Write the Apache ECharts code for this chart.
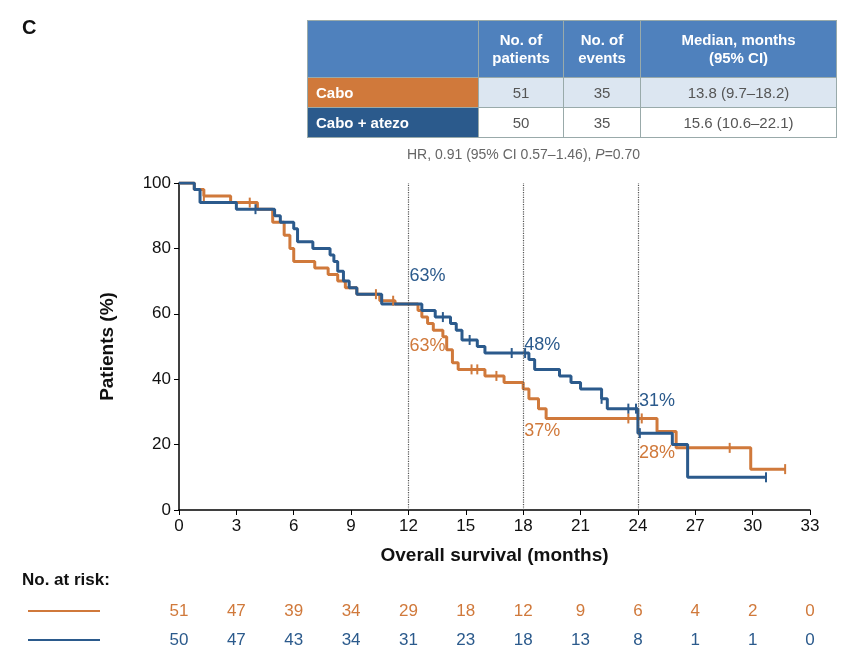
<!DOCTYPE html>
<html><head><meta charset="utf-8">
<script src="https://cdn.jsdelivr.net/npm/echarts@6/dist/echarts.min.js"></script>
<style>
body{margin:0;background:#fff;font-family:Arial,"Liberation Sans",sans-serif}
#c{width:856px;height:664px;position:absolute;left:0;top:0}
table{position:absolute;left:307px;top:20px;border-collapse:collapse;font-size:15px;z-index:2}
td{border:1.5px solid #9aa;padding:0;height:29px;text-align:center;color:#555}
.h td{background:#4f81bd;color:#fff;font-weight:bold;height:56px;line-height:18px}
</style></head><body>
<div id="c"></div>
<table>
<tr class="h"><td style="width:170px"></td><td style="width:84px">No. of<br>patients</td><td style="width:76px">No. of<br>events</td><td style="width:195px">Median, months<br>(95% CI)</td></tr>
<tr><td style="background:#d0793b;color:#fff;font-weight:bold;text-align:left;padding-left:8px">Cabo</td><td style="background:#dce6f1">51</td><td style="background:#dce6f1">35</td><td style="background:#dce6f1">13.8 (9.7–18.2)</td></tr>
<tr><td style="background:#2b5a8c;color:#fff;font-weight:bold;text-align:left;padding-left:8px">Cabo + atezo</td><td>50</td><td>35</td><td>15.6 (10.6–22.1)</td></tr>
</table>
<script>
const xTicks=[0,3,6,9,12,15,18,21,24,27,30,33];
const riskCabo=[51,47,39,34,29,18,12,9,6,4,2,0];
const riskCombo=[50,47,43,34,31,23,18,13,8,1,1,0];
const caboKM=[[0,100],[0.8,98],[1.3,96],[2.7,94],[4.1,92],[4.9,88],[5.5,84],[5.8,80],[6.0,76],[7.1,74],[7.8,72],[8.3,70],[8.7,68],[9.3,66],[10.5,64],[11.3,63],[12.5,61],[12.7,59],[13.0,57],[13.3,55],[13.8,53],[14.0,49],[14.3,45],[14.6,43],[16.0,41],[17.0,39],[18.0,37],[18.3,34],[18.8,31],[19.2,28],[25.0,24],[26.0,19],[29.9,12.5],[31.7,12.5]];
const comboKM=[[0,100],[0.8,98],[1.1,94],[3.0,92],[5.0,90],[5.3,88],[6.0,86],[6.2,82],[7.0,80],[7.9,78],[8.1,76],[8.3,73],[8.6,70],[8.9,68],[9.3,66],[10.6,63],[12.7,61],[13.4,59],[14.2,57],[14.5,55],[14.8,52],[15.6,50],[16.0,48],[18.3,46],[18.6,43],[19.9,41],[20.5,39],[21.0,37],[22.1,34],[22.4,31],[24.0,23.5],[25.8,20],[26.6,10],[30.7,10]];
const caboCens=[[1.3,96],[3.7,94],[10.3,66],[11.2,64],[15.3,43],[15.6,43],[16.6,41],[23.5,28],[24.2,28],[28.8,19],[31.7,12.5]];
const comboCens=[[4.0,92],[13.8,59],[15.2,52],[17.4,48],[18.1,48],[22.1,34],[23.5,31],[23.9,31],[24.1,23.5],[30.7,10]];
const OR='#d0793b',BL='#2b5a8c';
const ch=echarts.init(document.getElementById('c'));
function lab(x,y,t,c,oy){return {value:[x,y],label:{show:true,formatter:t,color:c,opacity:1,fontSize:18,position:'right',offset:[-4,oy]}};}
ch.setOption({
 animation:false,
 grid:{left:179,right:46,top:183,bottom:154},
 xAxis:{type:'value',min:0,max:33,interval:3,axisLine:{lineStyle:{color:'#000',width:1.5}},axisTick:{length:5,lineStyle:{color:'#000'}},splitLine:{show:false},axisLabel:{color:'#111',fontSize:17,margin:8},name:'Overall survival (months)',nameLocation:'middle',nameGap:36,nameTextStyle:{fontSize:19,fontWeight:'bold',color:'#111'}},
 yAxis:{type:'value',min:0,max:100,interval:20,axisLine:{show:true,lineStyle:{color:'#000',width:1.5}},axisTick:{show:true,length:5,lineStyle:{color:'#000'}},splitLine:{show:false},axisLabel:{color:'#111',fontSize:17},name:'Patients (%)',nameLocation:'middle',nameGap:62,nameTextStyle:{fontSize:19,fontWeight:'bold',color:'#111'}},
 series:[
  {type:'line',step:'end',data:caboKM,symbol:'none',lineStyle:{color:OR,width:3},z:3,
   markLine:{silent:true,symbol:'none',label:{show:false},lineStyle:{color:'#555',type:'dotted',width:1.2},data:[{xAxis:12},{xAxis:18},{xAxis:24}]}},
  {type:'line',step:'end',data:comboKM,symbol:'none',lineStyle:{color:BL,width:3},z:4},
  {type:'scatter',data:caboCens,symbol:'rect',symbolSize:[2,10],itemStyle:{color:OR,opacity:1},z:5},
  {type:'scatter',data:comboCens,symbol:'rect',symbolSize:[2,10],itemStyle:{color:BL,opacity:1},z:5},
  {type:'scatter',symbolSize:0,z:6,silent:true,data:[
    lab(12,63,'63%',BL,-28),lab(12,63,'63%',OR,42),lab(18,48,'48%',BL,-8),
    lab(18,37,'37%',OR,42),lab(24,31,'31%',BL,-8),lab(24,28,'28%',OR,35)
  ]}
 ]
});
const g=[
 {type:'text',left:22,top:18,style:{text:'C',fontSize:20,fontWeight:'bold',fill:'#111'}},
 {type:'text',left:407,top:148,style:{text:'HR, 0.91 (95% CI 0.57–1.46), {i|P}=0.70',fontSize:14,fill:'#666',rich:{i:{fontStyle:'italic',fontSize:14,fill:'#666'}}}},
 {type:'text',left:22,top:572,style:{text:'No. at risk:',fontSize:17,fontWeight:'bold',fill:'#111'}},
 {type:'line',shape:{x1:28,y1:611,x2:100,y2:611},style:{stroke:OR,lineWidth:2}},
 {type:'line',shape:{x1:28,y1:640,x2:100,y2:640},style:{stroke:BL,lineWidth:2}}
];
xTicks.forEach((t,i)=>{
 const x=ch.convertToPixel({xAxisIndex:0},t);
 g.push({type:'text',x:x,y:611,style:{text:String(riskCabo[i]),fontSize:17,fill:OR,align:'center',verticalAlign:'middle'}});
 g.push({type:'text',x:x,y:640,style:{text:String(riskCombo[i]),fontSize:17,fill:BL,align:'center',verticalAlign:'middle'}});
});
ch.setOption({graphic:g});
</script></body></html>
